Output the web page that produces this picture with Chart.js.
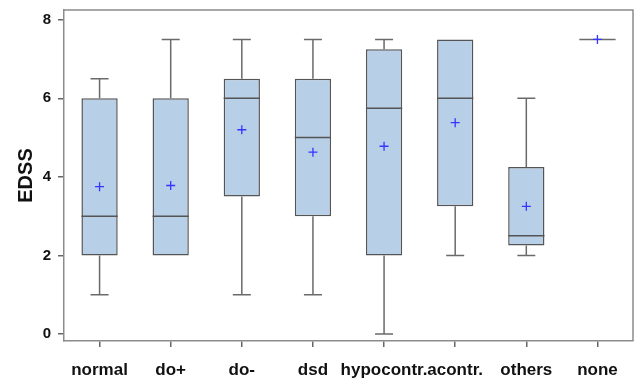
<!DOCTYPE html>
<html>
<head>
<meta charset="utf-8">
<script src="https://cdn.jsdelivr.net/npm/chart.js@4"></script>
<style>
  body { margin: 0; background: #fff; }
  #wrap { width: 636px; height: 381px; }
</style>
</head>
<body>
<div id="wrap"><canvas id="myChart" width="636" height="381"></canvas></div>
<script>
// Box plot of EDSS per group, boxes are floating bars, whiskers/median/mean drawn by a plugin

const categories = ['normal', 'do+', 'do-', 'dsd', 'hypocontr.', 'acontr.', 'others', 'none'];
const minVals = [1, 2, 1, 1, 0, 2, 2, 7.5];
const q1Vals = [2, 2, 3.5, 3, 2, 3.25, 2.25, 7.5];
const medianVals = [3, 3, 6, 5, 5.75, 6, 2.5, 7.5];
const q3Vals = [6, 6, 6.5, 6.5, 7.25, 7.5, 4.25, 7.5];
const maxVals = [6.5, 7.5, 7.5, 7.5, 7.5, 7.5, 6, 7.5];
const meanVals = [3.75, 3.78, 5.2, 4.63, 4.78, 5.38, 3.25, 7.5];
const yTicks = [0, 2, 4, 6, 8];

const boxFill = '#b8cfe8';
const boxLine = '#555555';
const whiskerLine = '#6a6a6a';
const meanColor = '#3535ff';

const boxPlugin = {
  id: 'boxExtras',
  afterDatasetsDraw(chart) {
    const c = chart.ctx;
    const x = chart.scales.x;
    const y = chart.scales.y;
    const meta = chart.getDatasetMeta(0);
    c.save();
    categories.forEach((cat, i) => {
      const cx = x.getPixelForValue(i);
      const half = meta.data[i].width / 2;
      const cap = 9;
      c.lineWidth = 1.5;
      c.strokeStyle = whiskerLine;
      c.beginPath();
      // upper whisker
      if (maxVals[i] > q3Vals[i]) {
        c.moveTo(cx, y.getPixelForValue(q3Vals[i]));
        c.lineTo(cx, y.getPixelForValue(maxVals[i]));
        c.moveTo(cx - cap, y.getPixelForValue(maxVals[i]));
        c.lineTo(cx + cap, y.getPixelForValue(maxVals[i]));
      }
      // lower whisker
      if (minVals[i] < q1Vals[i]) {
        c.moveTo(cx, y.getPixelForValue(q1Vals[i]));
        c.lineTo(cx, y.getPixelForValue(minVals[i]));
        c.moveTo(cx - cap, y.getPixelForValue(minVals[i]));
        c.lineTo(cx + cap, y.getPixelForValue(minVals[i]));
      }
      c.stroke();
      // median
      c.strokeStyle = q1Vals[i] === q3Vals[i] ? whiskerLine : boxLine;
      c.beginPath();
      const my = y.getPixelForValue(medianVals[i]);
      c.moveTo(cx - half, my);
      c.lineTo(cx + half, my);
      c.stroke();
      // mean marker
      const py = y.getPixelForValue(meanVals[i]);
      c.strokeStyle = meanColor;
      c.lineWidth = 1.3;
      c.beginPath();
      c.moveTo(cx - 4.5, py);
      c.lineTo(cx + 4.5, py);
      c.moveTo(cx, py - 4.5);
      c.lineTo(cx, py + 4.5);
      c.stroke();
    });
    // frame top and right
    const a = chart.chartArea;
    c.strokeStyle = '#8c8c8c';
    c.lineWidth = 1.5;
    c.beginPath();
    c.moveTo(a.left, a.top);
    c.lineTo(a.right, a.top);
    c.lineTo(a.right, a.bottom);
    c.stroke();
    c.restore();
  }
};

const ctx = document.getElementById('myChart');

new Chart(ctx, {
  type: 'bar',
  data: {
    labels: categories,
    datasets: [{
      data: categories.map((c, i) => [q1Vals[i], q3Vals[i]]),
      backgroundColor: boxFill,
      borderColor: boxLine,
      borderWidth: categories.map((c, i) => q1Vals[i] === q3Vals[i] ? 0 : 1.5),
      borderSkipped: false,
      barPercentage: 0.51,
      categoryPercentage: 1
    }]
  },
  options: {
    responsive: false,
    animation: false,
    layout: { padding: { top: 10, right: 3, left: 0, bottom: 0 } },
    plugins: {
      legend: { display: false },
      tooltip: { enabled: false }
    },
    scales: {
      x: {
        afterFit: s => { s.height = 40; s.paddingLeft = 0; s.paddingRight = 0; },
        grid: { display: true, offset: false, drawOnChartArea: false, tickLength: 6, color: '#666', lineWidth: 1.5 },
        border: { display: true, color: '#8c8c8c', width: 1.5 },
        ticks: {
          color: '#111',
          padding: 13,
          maxRotation: 0,
          minRotation: 0,
          autoSkip: false,
          font: { family: 'Liberation Sans, Arial, sans-serif', size: 17, weight: 'bold' }
        }
      },
      y: {
        min: -0.18,
        max: 8.25,
        afterBuildTicks: s => { s.ticks = yTicks.map(v => ({ value: v })); },
        afterFit: s => { s.width = 64; s.paddingTop = 0; s.paddingBottom = 0; },
        grid: { display: true, drawOnChartArea: false, tickLength: 6, color: '#666', lineWidth: 1.5 },
        border: { display: true, color: '#8c8c8c', width: 1.5 },
        ticks: {
          color: '#111',
          padding: 7,
          font: { family: 'Liberation Sans, Arial, sans-serif', size: 15, weight: 'bold' }
        },
        title: {
          display: true,
          text: 'EDSS',
          color: '#111',
          padding: { top: 14, bottom: 4 },
          font: { family: 'Liberation Sans, Arial, sans-serif', size: 20, weight: 'bold' }
        }
      }
    }
  },
  plugins: [boxPlugin]
});
</script>
</body>
</html>
